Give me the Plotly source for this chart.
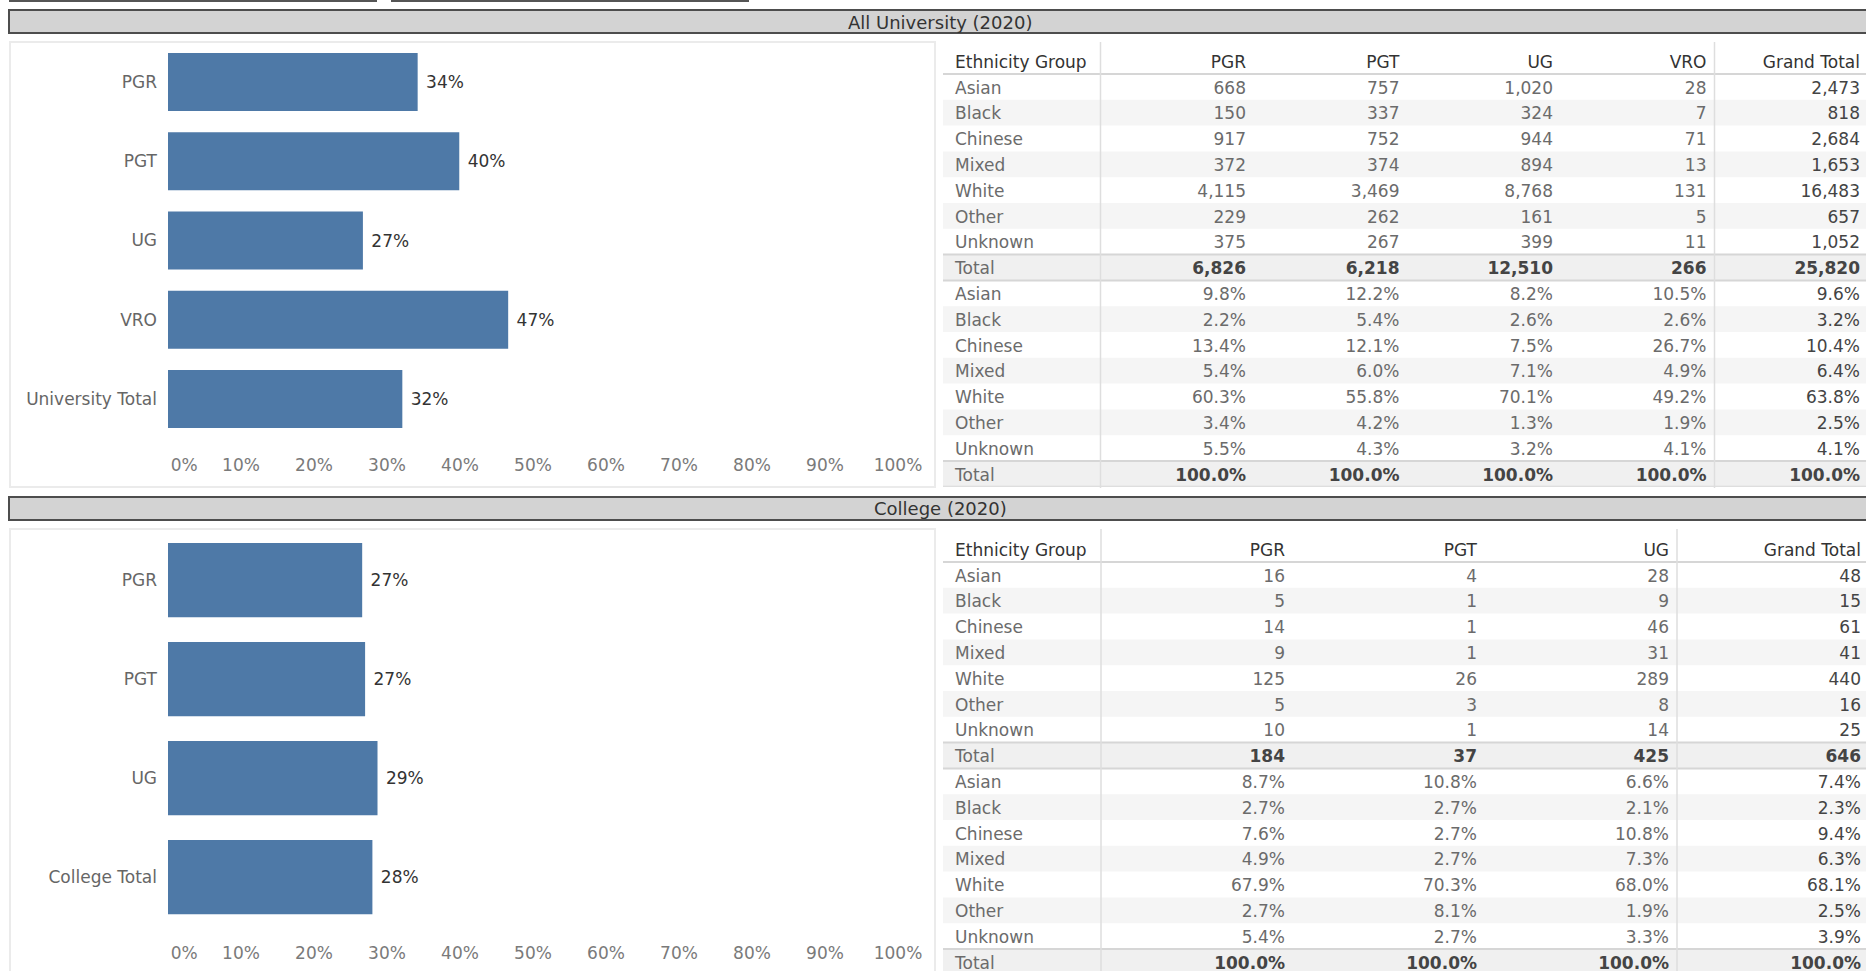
import plotly.graph_objects as go

# ---------------- data ----------------
uni_bar_cats = ["PGR", "PGT", "UG", "VRO", "University Total"]
uni_bar_vals = [0.342, 0.399, 0.267, 0.466, 0.321]
col_bar_cats = ["PGR", "PGT", "UG", "College Total"]
col_bar_vals = [0.266, 0.270, 0.287, 0.280]

pct_tick_vals = [0.0, 0.1, 0.2, 0.3, 0.4, 0.5, 0.6, 0.7, 0.8, 0.9, 1.0]
pct_tick_text = ["\u00a0" * 6 + "0%", "10%", "20%", "30%", "40%", "50%",
                 "60%", "70%", "80%", "90%", "100%"]

ethnic_groups = ["Asian", "Black", "Chinese", "Mixed", "White", "Other", "Unknown"]

uni_columns = ["PGR", "PGT", "UG", "VRO", "Grand Total"]
uni_pgr_n = [668, 150, 917, 372, 4115, 229, 375]
uni_pgt_n = [757, 337, 752, 374, 3469, 262, 267]
uni_ug_n = [1020, 324, 944, 894, 8768, 161, 399]
uni_vro_n = [28, 7, 71, 13, 131, 5, 11]
uni_gt_n = [2473, 818, 2684, 1653, 16483, 657, 1052]
uni_totals = [6826, 6218, 12510, 266, 25820]
uni_pgr_p = [9.8, 2.2, 13.4, 5.4, 60.3, 3.4, 5.5]
uni_pgt_p = [12.2, 5.4, 12.1, 6.0, 55.8, 4.2, 4.3]
uni_ug_p = [8.2, 2.6, 7.5, 7.1, 70.1, 1.3, 3.2]
uni_vro_p = [10.5, 2.6, 26.7, 4.9, 49.2, 1.9, 4.1]
uni_gt_p = [9.6, 3.2, 10.4, 6.4, 63.8, 2.5, 4.1]
uni_pct_totals = [100.0, 100.0, 100.0, 100.0, 100.0]

col_columns = ["PGR", "PGT", "UG", "Grand Total"]
col_pgr_n = [16, 5, 14, 9, 125, 5, 10]
col_pgt_n = [4, 1, 1, 1, 26, 3, 1]
col_ug_n = [28, 9, 46, 31, 289, 8, 14]
col_gt_n = [48, 15, 61, 41, 440, 16, 25]
col_totals = [184, 37, 425, 646]
col_pgr_p = [8.7, 2.7, 7.6, 4.9, 67.9, 2.7, 5.4]
col_pgt_p = [10.8, 2.7, 2.7, 2.7, 70.3, 8.1, 2.7]
col_ug_p = [6.6, 2.1, 10.8, 7.3, 68.0, 1.9, 3.3]
col_gt_p = [7.4, 2.3, 9.4, 6.3, 68.1, 2.5, 3.9]
col_pct_totals = [100.0, 100.0, 100.0, 100.0]

uni_title = "All University (2020)"
col_title = "College (2020)"
header_label = "Ethnicity Group"
total_label = "Total"

# ---------------- style / layout helpers ----------------
W, H = 1866, 971
FONT = "DejaVu Sans"
BLUE = "#4e79a7"
FS = 17


def fx(px):
    return px / W


def fy(py):
    return 1 - py / H


fig = go.Figure()
layout = dict(
    width=W, height=H, margin=dict(l=0, r=0, t=0, b=0, autoexpand=False),
    paper_bgcolor="white", plot_bgcolor="rgba(0,0,0,0)",
    showlegend=False, hovermode=False,
    font=dict(family=FONT, size=FS, color="#666666"),
)
shapes = []
annotations = []


# ---------------- bar charts ----------------
def bar_chart(idx, cats, vals, top_px, bot_px, bw):
    xa, ya = f"x{idx}", f"y{idx}"
    fig.add_trace(go.Bar(
        y=cats, x=vals, orientation="h", width=bw,
        marker=dict(color=BLUE, line=dict(width=0)),
        texttemplate="\u00a0%{x:.0%}", textposition="outside", cliponaxis=False,
        textfont=dict(family=FONT, size=FS, color="#333333"),
        xaxis=xa, yaxis=ya, hoverinfo="skip",
    ))
    layout[f"xaxis{idx}"] = dict(
        domain=[fx(168), fx(898)], range=[0, 1], anchor=ya,
        tickvals=pct_tick_vals, ticktext=pct_tick_text,
        tickfont=dict(family=FONT, size=FS, color="#7a7a7a"),
        showgrid=False, zeroline=False, showline=False, ticks="",
        ticklabelstandoff=14, fixedrange=True, automargin=False,
    )
    layout[f"yaxis{idx}"] = dict(
        domain=[fy(bot_px), fy(top_px)], type="category",
        categoryorder="array", categoryarray=cats, autorange="reversed",
        anchor=xa, tickfont=dict(family=FONT, size=FS, color="#666666"),
        showgrid=False, zeroline=False, showline=False, ticks="",
        ticklabelstandoff=10, fixedrange=True, automargin=False,
    )


bar_chart(1, uni_bar_cats, uni_bar_vals, 42.4, 438.6, 0.73)
bar_chart(2, col_bar_cats, col_bar_vals, 530.5, 926.5, 0.75)


# ---------------- tables ----------------
def table(xi, yb, yt, columns, n_lists, totals, p_lists, p_totals,
          left_px, first_right_px, unit_px, top_px, bot_px, line_bot_px, div_top_px):
    pitch = 25.8
    row_labels = [header_label] + ethnic_groups + [total_label] + ethnic_groups + [total_label]
    nrows = len(row_labels)
    rows = list(range(nrows))
    x_left = 1 + (left_px - first_right_px) / unit_px
    x_right = 1 + (W - first_right_px) / unit_px
    label_x = 1 + (left_px + 12 - first_right_px) / unit_px
    pad = 8 / unit_px
    xa = f"x{xi}"

    # row bands
    band_colors = []
    for r, lab in enumerate(row_labels):
        if r == 0:
            band_colors.append("rgba(0,0,0,0)")
        elif lab == total_label:
            band_colors.append("#f0f0f0")
        elif r % 2 == 0:
            band_colors.append("#f5f5f5")
        else:
            band_colors.append("rgba(0,0,0,0)")
    fig.add_trace(go.Bar(
        y=rows, x=[x_right - x_left] * nrows, base=[x_left] * nrows,
        orientation="h", width=1, marker=dict(color=band_colors, line=dict(width=0)),
        xaxis=xa, yaxis=f"y{yb}", hoverinfo="skip",
    ))

    # label column
    lab_colors = ["#333333"] + ["#6b6b6b"] * (nrows - 1)
    fig.add_trace(go.Scatter(
        x=[label_x] * nrows, y=rows, mode="text", text=row_labels,
        textposition="middle right", cliponaxis=False,
        textfont=dict(family=FONT, size=FS, color=lab_colors),
        xaxis=xa, yaxis=f"y{yt}", hoverinfo="skip",
    ))
    # value columns
    ncol = len(columns)
    for j, name in enumerate(columns):
        is_gt = j == ncol - 1
        body = "#444444" if is_gt else "#6b6b6b"
        texts = ([name] + [f"{v:,}" for v in n_lists[j]] + [f"<b>{totals[j]:,}</b>"]
                 + [f"{v:.1f}%" for v in p_lists[j]] + [f"<b>{p_totals[j]:.1f}%</b>"])
        colors = ["#333333"] + [body] * 7 + ["#444444"] + [body] * 7 + ["#444444"]
        fig.add_trace(go.Scatter(
            x=[j + 1] * nrows, y=rows, mode="text", text=texts,
            textposition="middle left", cliponaxis=False,
            textfont=dict(family=FONT, size=FS, color=colors),
            xaxis=xa, yaxis=f"y{yt}", hoverinfo="skip",
        ))

    layout[f"xaxis{xi}"] = dict(domain=[fx(left_px), 1], range=[x_left, x_right],
                                anchor=f"y{yb}", visible=False, fixedrange=True,
                                automargin=False)
    layout[f"yaxis{yb}"] = dict(domain=[fy(bot_px), fy(top_px)],
                                range=[-0.5 + (bot_px - top_px) / pitch, -0.5],
                                anchor=xa, visible=False, fixedrange=True,
                                automargin=False)
    off = 2.5
    tb = min(bot_px + off, H)
    layout[f"yaxis{yt}"] = dict(domain=[fy(tb), fy(top_px + off)],
                                range=[-0.5 + (tb - top_px - off) / pitch, -0.5],
                                anchor=xa, visible=False, fixedrange=True,
                                automargin=False)

    # horizontal rules
    for r, lab in enumerate(row_labels):
        if r == 0:
            shapes.append(dict(type="line", xref=f"{xa} domain", yref=f"y{yb}",
                               x0=0, x1=1, y0=0.5, y1=0.5,
                               line=dict(color="#d6d6d6", width=2)))
        if lab == total_label:
            for yy in (r - 0.5, r + 0.5):
                shapes.append(dict(type="line", xref=f"{xa} domain", yref=f"y{yb}",
                                   x0=0, x1=1, y0=yy, y1=yy,
                                   line=dict(color="#d6d6d6", width=2)))
    # vertical dividers
    for xv in (pad, (ncol - 1) + pad):
        shapes.append(dict(type="line", xref=xa, yref="paper", x0=xv, x1=xv,
                           y0=fy(line_bot_px), y1=fy(div_top_px),
                           line=dict(color="#dedede", width=1.5)))


table(3, 3, 4, uni_columns,
      [uni_pgr_n, uni_pgt_n, uni_ug_n, uni_vro_n, uni_gt_n], uni_totals,
      [uni_pgr_p, uni_pgt_p, uni_ug_p, uni_vro_p, uni_gt_p], uni_pct_totals,
      943, 1246, 153.5, 48.2, 486.8, 488, 42)
table(5, 5, 6, col_columns,
      [col_pgr_n, col_pgt_n, col_ug_n, col_gt_n], col_totals,
      [col_pgr_p, col_pgt_p, col_ug_p, col_gt_p], col_pct_totals,
      943, 1285, 192, 536.2, 971, 971, 529)

# ---------------- decorations ----------------
# panels around bar charts
for y0p, y1p in ((42, 487), (529, 990)):
    shapes.append(dict(type="rect", xref="paper", yref="paper",
                       x0=fx(10), x1=fx(935), y0=fy(y1p), y1=fy(y0p),
                       line=dict(color="#ebebeb", width=2), fillcolor="rgba(0,0,0,0)",
                       layer="below"))
# section title bars
for (y0p, y1p), title in (((10, 33), uni_title), ((497, 520), col_title)):
    shapes.append(dict(type="rect", xref="paper", yref="paper",
                       x0=fx(9), x1=fx(1880), y0=fy(y1p), y1=fy(y0p),
                       line=dict(color="#4d4d4d", width=2), fillcolor="#d3d3d3",
                       layer="below"))
    annotations.append(dict(text=title, xref="paper", yref="paper",
                            x=fx(940), y=fy((y0p + y1p) / 2 + 0.5),
                            xanchor="center", yanchor="middle", showarrow=False,
                            font=dict(family=FONT, size=18, color="#333333")))
# bottom edges of the filter boxes at the very top
for x0p, x1p in ((9, 377), (391, 749)):
    shapes.append(dict(type="line", xref="paper", yref="paper",
                       x0=fx(x0p), x1=fx(x1p), y0=fy(1), y1=fy(1),
                       line=dict(color="#555555", width=2)))

layout["shapes"] = shapes
layout["annotations"] = annotations
fig.update_layout(**layout)

fig.write_html("out.html", config={"displayModeBar": False, "staticPlot": True},
               post_script="document.body.style.margin='0px';document.body.style.overflow='hidden';")
